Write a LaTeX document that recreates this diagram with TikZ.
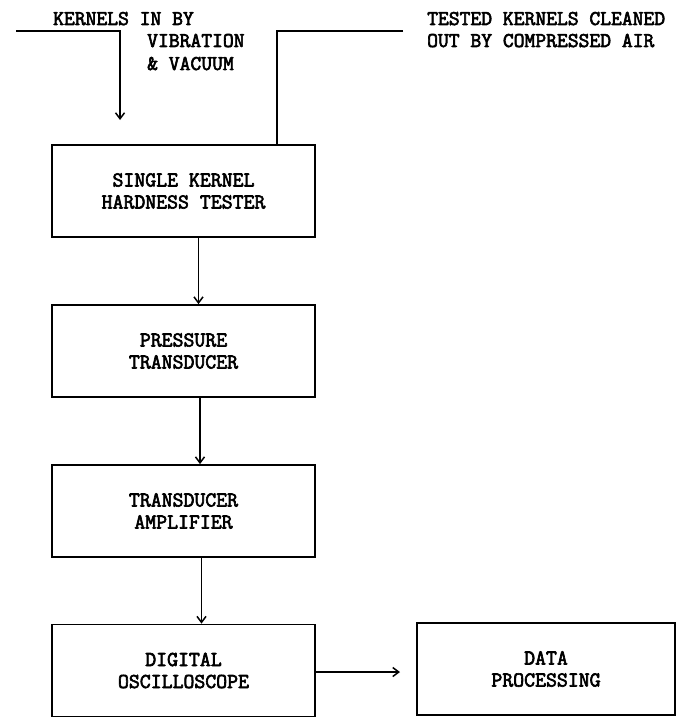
\documentclass[tikz,border=0pt]{standalone}
\usepackage{fontspec}
\setmonofont{Latin Modern Mono}[AutoFakeBold=3]
\usetikzlibrary{arrows.meta}

\begin{document}
\begin{tikzpicture}[x=1pt,y=-1pt]
	\tikzstyle{every node}+=[inner sep=0pt]
	\tikzstyle{unit}=[draw,line width=1.8pt,minimum width=263pt,minimum height=92pt,align=center,font=\ttfamily\bfseries\fontsize{21.2}{22}\selectfont]
	\tikzstyle{note}=[anchor=base west,font=\ttfamily\bfseries\fontsize{21}{22}\selectfont]
	\tikzstyle{flow}=[line width=1.8pt,-{Straight Barb[length=6pt,width=9pt,line width=1.5pt]}]
	\useasboundingbox (0,0) rectangle (676,717);
	\node[unit] (tester) at (183.5,191) {SINGLE KERNEL\\HARDNESS TESTER};
	\node[unit] (pressure) at (183.5,351) {PRESSURE\\TRANSDUCER};
	\node[unit] (amp) at (183.5,511) {TRANSDUCER\\AMPLIFIER};
	\node[unit] (scope) at (183.5,670.5) {DIGITAL\\OSCILLOSCOPE};
	\node[unit,minimum width=258pt] (data) at (546,669) {DATA\\PROCESSING};
	\draw [flow] ([xshift=15pt]tester.south) -- ([xshift=15pt]pressure.north);
	\draw [flow] ([xshift=16.5pt]pressure.south) -- ([xshift=16.5pt]amp.north);
	\draw [flow] ([xshift=18pt]amp.south) -- ([xshift=18pt]scope.north);
	\coordinate (dataIn) at (400,672);
	\draw [flow] (scope.east |- dataIn) -- (dataIn);
	\coordinate (feedL) at (16,31);
	\coordinate (feedC) at (120,31);
	\coordinate (feedEnd) at (120,120);
	\draw [flow] (feedL) -- (feedC) -- (feedEnd);
	\coordinate (ejectR) at (403,31);
	\coordinate (ejectC) at (277,31);
	\draw [line width=1.8pt] (ejectR) -- (ejectC) -- (ejectC |- tester.north);
	\node[note] (feedA) at (53,25) {KERNELS IN BY};
	\node[note] (feedB) at (147,47) {VIBRATION};
	\node[note] (feedD) at (147,70) {\& VACUUM};
	\node[note] (ejectA) at (427,25) {TESTED KERNELS CLEANED};
	\node[note] (ejectB) at (427,47) {OUT BY COMPRESSED AIR};
\end{tikzpicture}
\end{document}
